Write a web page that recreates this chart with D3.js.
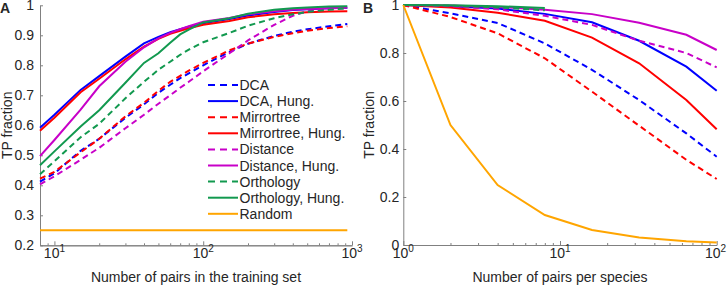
<!DOCTYPE html>
<html>
<head>
<meta charset="utf-8">
<script src="https://cdn.jsdelivr.net/npm/d3@7"></script>
<style>
  body { margin: 0; background: #fff; }
  text { font-family: "Liberation Sans", Arial, sans-serif; fill: #262626; }
</style>
</head>
<body>
<div id="chart"></div>
<script>
// ---- data, panel A (TP fraction vs training set size) ----
var xA = [8, 10, 15, 20, 30, 40, 50, 60, 70, 80, 100, 150, 200, 300, 400, 500, 700, 930];
var dcaA        = [0.412, 0.44, 0.515, 0.555, 0.625, 0.67, 0.708, 0.735, 0.757, 0.773, 0.80, 0.845, 0.872, 0.898, 0.912, 0.92, 0.93, 0.938];
var dcaHungA    = [0.592, 0.635, 0.718, 0.764, 0.829, 0.873, 0.895, 0.91, 0.92, 0.929, 0.94, 0.954, 0.966, 0.978, 0.984, 0.987, 0.99, 0.992];
var mirrorA     = [0.422, 0.445, 0.51, 0.555, 0.63, 0.675, 0.715, 0.745, 0.765, 0.782, 0.808, 0.85, 0.872, 0.895, 0.907, 0.915, 0.924, 0.93];
var mirrorHungA = [0.582, 0.625, 0.71, 0.755, 0.82, 0.862, 0.888, 0.905, 0.915, 0.923, 0.935, 0.948, 0.96, 0.97, 0.974, 0.977, 0.979, 0.98];
var distA       = [0.403, 0.43, 0.485, 0.525, 0.59, 0.635, 0.672, 0.70, 0.725, 0.745, 0.78, 0.84, 0.883, 0.935, 0.965, 0.98, 0.988, 0.99];
var distHungA   = [0.497, 0.551, 0.652, 0.73, 0.812, 0.86, 0.89, 0.908, 0.92, 0.93, 0.945, 0.958, 0.97, 0.98, 0.985, 0.988, 0.99, 0.992];
var orthoA      = [0.437, 0.48, 0.56, 0.605, 0.69, 0.745, 0.785, 0.812, 0.835, 0.852, 0.877, 0.908, 0.932, 0.957, 0.97, 0.978, 0.985, 0.99];
var orthoHungA  = [0.467, 0.513, 0.596, 0.65, 0.742, 0.808, 0.84, 0.875, 0.903, 0.919, 0.943, 0.957, 0.972, 0.985, 0.99, 0.993, 0.996, 0.997];
var randomA     = [0.25, 0.25, 0.25, 0.25, 0.25, 0.25, 0.25, 0.25, 0.25, 0.25, 0.25, 0.25, 0.25, 0.25, 0.25, 0.25, 0.25, 0.25];

// ---- data, panel B (TP fraction vs pairs per species) ----
var xB = [1, 2, 4, 8, 16, 32, 64, 100];
var dcaB        = [1, 0.965, 0.925, 0.84, 0.73, 0.604, 0.465, 0.368];
var dcaHungB    = [1, 0.995, 0.985, 0.963, 0.928, 0.851, 0.743, 0.643];
var mirrorB     = [1, 0.95, 0.882, 0.778, 0.639, 0.497, 0.355, 0.275];
var mirrorHungB = [1, 0.99, 0.968, 0.934, 0.864, 0.757, 0.604, 0.482];
var distB       = [1, 0.995, 0.982, 0.955, 0.917, 0.851, 0.80, 0.74];
var distHungB   = [1, 0.998, 0.992, 0.98, 0.962, 0.926, 0.876, 0.8125];
var orthoB      = [1, 0.997, 0.99, 0.978];
var orthoHungB  = [1, 0.999, 0.995, 0.987];
var randomB     = [1, 0.5, 0.25, 0.125, 0.0625, 0.03125, 0.015625, 0.01];

var names = ["DCA", "DCA, Hung.", "Mirrortree", "Mirrortree, Hung.", "Distance", "Distance, Hung.",
             "Orthology", "Orthology, Hung.", "Random"];
var colors = ["#0000ff", "#0000ff", "#ff0000", "#ff0000", "#c800c8", "#c800c8", "#12994f", "#12994f", "#ffa500"];
var dashed = [true, false, true, false, true, false, true, false, false];

var seriesA = [dcaA, dcaHungA, mirrorA, mirrorHungA, distA, distHungA, orthoA, orthoHungA, randomA];
var seriesB = [dcaB, dcaHungB, mirrorB, mirrorHungB, distB, distHungB, orthoB, orthoHungB, randomB];

var yTicksA = [0.2, 0.3, 0.4, 0.5, 0.6, 0.7, 0.8, 0.9, 1];
var yTicksB = [0, 0.2, 0.4, 0.6, 0.8, 1];

var width = 727, height = 287;
var fs = 14; // font size used for most text

var svg = d3.select("#chart").append("svg")
    .attr("width", width)
    .attr("height", height);

// minor ticks for a log axis
function minorTicks(lo, hi) {
  var out = [];
  for (var e = Math.floor(Math.log10(lo)); e < Math.ceil(Math.log10(hi)); e++) {
    for (var m = 2; m < 10; m++) {
      var v = m * Math.pow(10, e);
      if (v >= lo && v <= hi) out.push(v);
    }
  }
  return out;
}

function drawPanel(opt) {
  var x = d3.scaleLog().domain(opt.xDomain).range([opt.left, opt.right]);
  var y = d3.scaleLinear().domain(opt.yDomain).range([opt.bottom, opt.top]);

  // minor x ticks
  svg.append("g")
      .attr("transform", "translate(0," + opt.bottom + ")")
      .call(d3.axisBottom(x).tickValues(minorTicks(opt.xDomain[0], opt.xDomain[1]))
        .tickSize(-2).tickSizeOuter(0).tickFormat(""))
      .call(function(g) { g.selectAll("path,line").attr("stroke", "#808080"); });

  // major x ticks
  var gx = svg.append("g")
      .attr("transform", "translate(0," + opt.bottom + ")")
      .call(d3.axisBottom(x).tickValues(opt.xMajor)
        .tickSize(-4).tickSizeOuter(0).tickFormat(""));
  gx.selectAll("path,line").attr("stroke", "#808080");

  // labels 10^n with superscript
  opt.xMajor.forEach(function(v) {
    var t = svg.append("text")
        .attr("x", x(v))
        .attr("y", opt.bottom + 12.5)
        .attr("text-anchor", "middle")
        .attr("font-size", fs);
    t.append("tspan").text("10");
    t.append("tspan").attr("dy", -5.5).attr("font-size", 10).text(Math.round(Math.log10(v)));
    // keep the label inside the window
    var bb = t.node().getBBox();
    if (bb.x + bb.width > width - 0.5) t.attr("x", x(v) - (bb.x + bb.width - width + 0.5));
  });

  // y axis
  var gy = svg.append("g")
      .attr("transform", "translate(" + opt.left + ",0)")
      .call(d3.axisLeft(y).tickValues(opt.yTicks)
        .tickSize(-3).tickSizeOuter(0).tickPadding(opt.yPad)
        .tickFormat(function(d) { return (d === 0 || d === 1) ? String(d) : d.toFixed(1); }));
  gy.selectAll("path,line").attr("stroke", "#808080");
  gy.selectAll("text")
      .attr("font-size", fs)
      .attr("font-family", "'Liberation Sans', Arial, sans-serif")
      .attr("fill", "#262626");

  // curves
  var line = d3.line()
      .x(function(d) { return x(d[0]); })
      .y(function(d) { return y(d[1]); });

  opt.series.forEach(function(s, i) {
    var pts = s.map(function(v, j) { return [opt.xs[j], v]; });
    svg.append("path")
        .datum(pts)
        .attr("d", line)
        .attr("fill", "none")
        .attr("stroke", colors[i])
        .attr("stroke-width", 2)
        .attr("stroke-dasharray", dashed[i] ? "6,4" : null);
  });

  // axis titles
  svg.append("text")
      .attr("x", (opt.left + opt.right) / 2)
      .attr("y", 282)
      .attr("text-anchor", "middle")
      .attr("font-size", fs)
      .text(opt.xTitle);

  svg.append("text")
      .attr("transform", "translate(" + opt.yTitleX + "," + ((opt.top + opt.bottom) / 2) + ") rotate(-90)")
      .attr("text-anchor", "middle")
      .attr("font-size", fs)
      .text("TP fraction");

  svg.append("text")
      .attr("x", opt.letterX)
      .attr("y", 13)
      .attr("font-size", 14)
      .attr("font-weight", "bold")
      .text(opt.letter);
}

drawPanel({
  left: 40, right: 352, top: 5.3, bottom: 245.3,
  xDomain: [8, 1000], yDomain: [0.2, 1],
  xMajor: [10, 100, 1000], yTicks: yTicksA, yPad: 6,
  xs: xA, series: seriesA,
  xTitle: "Number of pairs in the training set",
  yTitleX: 12, letter: "A", letterX: 0
});

drawPanel({
  left: 403.3, right: 716.7, top: 5, bottom: 245,
  xDomain: [1, 100], yDomain: [0, 1],
  xMajor: [1, 10, 100], yTicks: yTicksB, yPad: 4,
  xs: xB, series: seriesB,
  xTitle: "Number of pairs per species",
  yTitleX: 374, letter: "B", letterX: 363
});

// legend in panel A
var legend = svg.append("g").attr("class", "legend");
names.forEach(function(n, i) {
  var ly = 85 + i * 16.1;
  legend.append("line")
      .attr("x1", 208).attr("x2", 238)
      .attr("y1", ly).attr("y2", ly)
      .attr("stroke", colors[i])
      .attr("stroke-width", 2)
      .attr("stroke-dasharray", dashed[i] ? "7,5" : null);
  legend.append("text")
      .attr("x", 239.5)
      .attr("y", ly + 5)
      .attr("font-size", fs)
      .text(n);
});
</script>
</body>
</html>
